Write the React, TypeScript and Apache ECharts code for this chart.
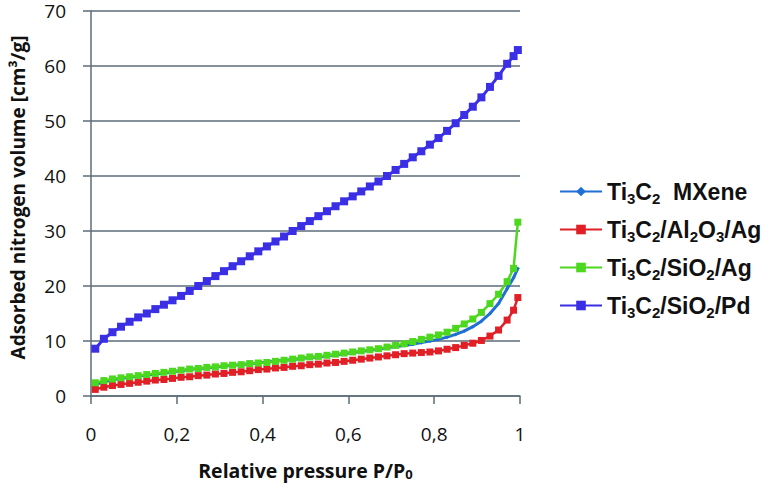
import React, { useEffect, useRef } from "react";
import * as echarts from "echarts";

const pressure = [
  0.01, 0.03, 0.05, 0.07, 0.09, 0.11, 0.13, 0.15, 0.17, 0.19,
  0.21, 0.23, 0.25, 0.27, 0.29, 0.31, 0.33, 0.35, 0.37, 0.39,
  0.41, 0.43, 0.45, 0.47, 0.49, 0.51, 0.53, 0.55, 0.57, 0.59,
  0.61, 0.63, 0.65, 0.67, 0.69, 0.71, 0.73, 0.75, 0.77, 0.79,
  0.81, 0.83, 0.85, 0.87, 0.89, 0.91, 0.93, 0.95, 0.97, 0.985, 0.995,
];

const mxene = [
  2.1, 2.6, 2.9, 3.2, 3.4, 3.6, 3.8, 4.0, 4.2, 4.4,
  4.6, 4.8, 5.0, 5.1, 5.3, 5.4, 5.6, 5.7, 5.9, 6.0,
  6.2, 6.3, 6.5, 6.6, 6.8, 7.0, 7.1, 7.3, 7.5, 7.7,
  7.9, 8.1, 8.3, 8.5, 8.8, 9.0, 9.2, 9.4, 9.7, 10.0,
  10.3, 10.7, 11.2, 11.8, 12.6, 13.6, 15.0, 16.8, 19.5, 21.5, 23.2,
];

const alAg = [
  1.2, 1.6, 1.9, 2.1, 2.3, 2.5, 2.7, 2.9, 3.0, 3.2,
  3.4, 3.5, 3.7, 3.8, 4.0, 4.1, 4.3, 4.4, 4.6, 4.8,
  4.9, 5.1, 5.2, 5.4, 5.5, 5.7, 5.8, 6.0, 6.1, 6.3,
  6.5, 6.7, 6.9, 7.1, 7.3, 7.5, 7.7, 7.8, 7.9, 8.0,
  8.2, 8.5, 8.8, 9.2, 9.6, 10.1, 10.9, 12.0, 13.8, 15.6, 17.9,
];

const siAg = [
  2.4, 2.8, 3.1, 3.3, 3.5, 3.7, 3.9, 4.1, 4.3, 4.5,
  4.7, 4.9, 5.0, 5.2, 5.3, 5.5, 5.6, 5.7, 5.9, 6.0,
  6.1, 6.3, 6.5, 6.7, 6.9, 7.1, 7.2, 7.4, 7.6, 7.8,
  8.0, 8.2, 8.4, 8.6, 8.9, 9.2, 9.5, 9.9, 10.3, 10.7,
  11.1, 11.6, 12.3, 13.1, 14.0, 15.2, 16.8, 18.5, 20.8, 23.2, 31.6,
];

const siPd = [
  8.6, 10.4, 11.6, 12.6, 13.5, 14.3, 15.0, 15.8, 16.6, 17.4,
  18.2, 19.1, 20.0, 20.9, 21.8, 22.7, 23.6, 24.5, 25.4, 26.3,
  27.2, 28.1, 29.0, 30.0, 30.9, 31.8, 32.7, 33.6, 34.5, 35.4,
  36.3, 37.2, 38.1, 39.0, 40.0, 41.1, 42.2, 43.4, 44.5, 45.7,
  46.9, 48.2, 49.6, 51.1, 52.6, 54.3, 56.2, 58.2, 60.4, 61.8, 62.9,
];

const seriesNames = ["Ti3C2 MXene", "Ti3C2/Al2O3/Ag", "Ti3C2/SiO2/Ag", "Ti3C2/SiO2/Pd"];
const legendRich: Record<string, string> = {
  "Ti3C2 MXene": "{n|Ti}{s|3}{n|C}{s|2}{n|  MXene}",
  "Ti3C2/Al2O3/Ag": "{n|Ti}{s|3}{n|C}{s|2}{n|/Al}{s|2}{n|O}{s|3}{n|/Ag}",
  "Ti3C2/SiO2/Ag": "{n|Ti}{s|3}{n|C}{s|2}{n|/SiO}{s|2}{n|/Ag}",
  "Ti3C2/SiO2/Pd": "{n|Ti}{s|3}{n|C}{s|2}{n|/SiO}{s|2}{n|/Pd}",
};
const xTicks = [0, 0.2, 0.4, 0.6, 0.8, 1];
const xTickLabels = ["0", "0,2", "0,4", "0,6", "0,8", "1"];

const axisColor = "#5b6d78";

function pairs(ys: number[]) {
  return pressure.map((p, i) => [p, ys[i]]);
}

export default function App() {
  const ref = useRef<HTMLDivElement>(null);
  useEffect(() => {
    if (!ref.current) return;
    const chart = echarts.init(ref.current, null, { renderer: "svg" });
    const sq = { symbol: "rect", symbolSize: 7, showSymbol: true };
    chart.setOption({
      animation: false,
      backgroundColor: "#ffffff",
      grid: { left: 88, right: 257, top: 11, bottom: 96, containLabel: false },
      legend: {
        orient: "vertical",
        left: 554,
        top: 175,
        itemWidth: 42,
        itemHeight: 12,
        itemGap: 12,
        data: seriesNames,
        formatter: (name: string) => legendRich[name] || name,
        textStyle: {
          fontFamily: "Liberation Sans",
          fontWeight: "bold",
          fontSize: 23,
          color: "#111",
          rich: {
            n: { fontFamily: "Liberation Sans", fontWeight: "bold", fontSize: 23, lineHeight: 29, color: "#111" },
            s: { fontFamily: "Liberation Sans", fontWeight: "bold", fontSize: 15, lineHeight: 15, verticalAlign: "bottom", color: "#111" },
          },
        },
      },
      xAxis: {
        type: "value",
        min: 0,
        max: 1,
        interval: 0.2,
        name: "Relative pressure P/P{s|0}",
        nameLocation: "middle",
        nameGap: 64,
        nameTextStyle: {
          fontFamily: "Open Sans",
          fontWeight: "bold",
          fontSize: 19.5,
          color: "#111",
          rich: {
            s: { fontFamily: "Open Sans", fontWeight: "bold", fontSize: 13, lineHeight: 13, verticalAlign: "bottom", color: "#111" },
          },
        },
        axisLine: { show: true, lineStyle: { color: axisColor, width: 1.5 } },
        axisTick: { show: true, length: 8, inside: false, lineStyle: { color: axisColor, width: 1.5 } },
        splitLine: { show: false },
        axisLabel: {
          margin: 28,
          fontFamily: "Open Sans",
          fontSize: 19,
          color: "#111",
          formatter: (v: number) => {
            const i = xTicks.findIndex((t) => Math.abs(t - v) < 1e-6);
            return i >= 0 ? xTickLabels[i] : "";
          },
        },
      },
      yAxis: {
        type: "value",
        min: 0,
        max: 70,
        interval: 10,
        name: "Adsorbed nitrogen volume [cm³/g]",
        nameLocation: "middle",
        nameGap: 64,
        nameTextStyle: {
          fontFamily: "Open Sans",
          fontWeight: "bold",
          fontSize: 19,
          color: "#111",
          padding: [0, 0, 0, 12],
        },
        axisLine: { show: true, lineStyle: { color: axisColor, width: 1.5 } },
        axisTick: { show: true, length: 8, inside: false, lineStyle: { color: axisColor, width: 1.5 } },
        splitLine: { show: true, lineStyle: { color: axisColor, width: 1.5 } },
        axisLabel: { margin: 25, fontFamily: "Open Sans", fontSize: 19, lineHeight: 14, color: "#111" },
      },
      series: [
        {
          name: seriesNames[0],
          type: "line",
          data: pairs(mxene),
          color: "#1f6fd6",
          lineStyle: { width: 3, color: "#1f6fd6" },
          itemStyle: { color: "#1f6fd6" },
          symbol: "diamond",
          symbolSize: 4,
          showSymbol: true,
          z: 2,
        },
        {
          name: seriesNames[1],
          type: "line",
          data: pairs(alAg),
          color: "#e02026",
          lineStyle: { width: 2.5, color: "#e02026" },
          itemStyle: { color: "#e02026" },
          ...sq,
          z: 3,
        },
        {
          name: seriesNames[2],
          type: "line",
          data: pairs(siAg),
          color: "#4cd81e",
          lineStyle: { width: 2.5, color: "#4cd81e" },
          itemStyle: { color: "#4cd81e" },
          ...sq,
          z: 4,
        },
        {
          name: seriesNames[3],
          type: "line",
          data: pairs(siPd),
          color: "#3b2fe6",
          lineStyle: { width: 3, color: "#3b2fe6" },
          itemStyle: { color: "#3b2fe6" },
          ...sq,
          symbolSize: 8,
          z: 5,
        },
      ],
    });
    return () => chart.dispose();
  }, []);
  return (
    <div
      ref={ref}
      style={{ position: "absolute", left: 0, top: 0, width: 777, height: 492 }}
    />
  );
}
